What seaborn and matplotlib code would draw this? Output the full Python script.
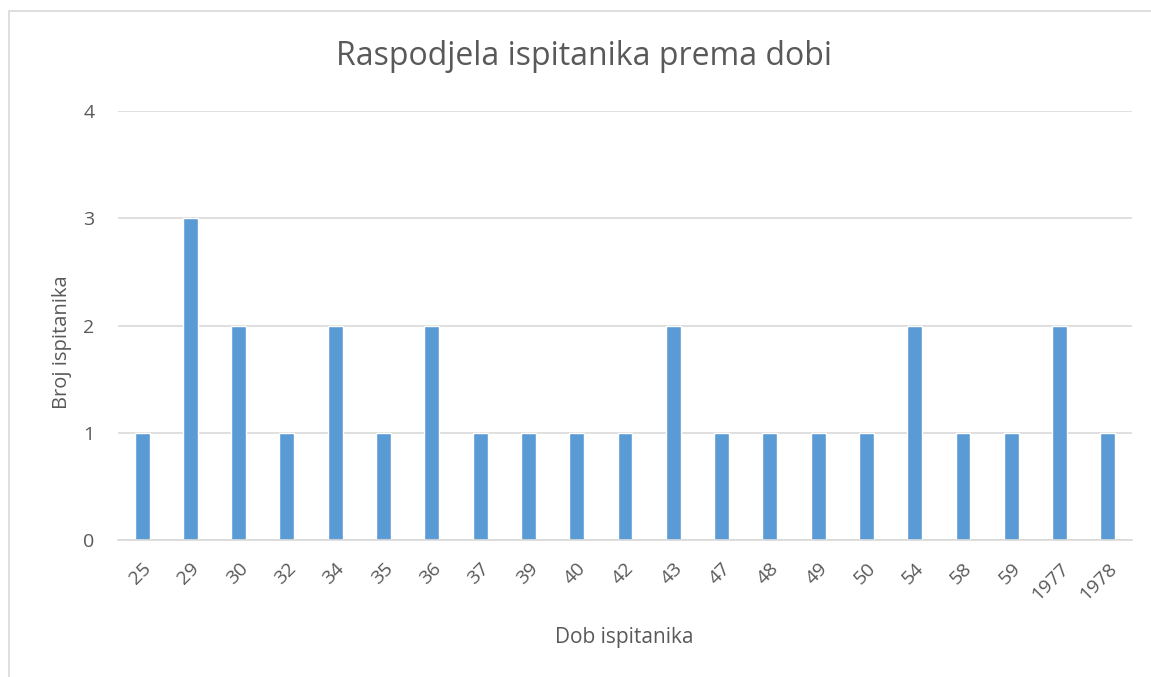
import pandas as pd
import seaborn as sns
import matplotlib.pyplot as plt
from matplotlib.patches import Rectangle

ages = ["25", "29", "30", "32", "34", "35", "36", "37", "39", "40", "42",
        "43", "47", "48", "49", "50", "54", "58", "59", "1977", "1978"]
counts = [1, 3, 2, 1, 2, 1, 2, 1, 1, 1, 1, 2, 1, 1, 1, 1, 2, 1, 1, 2, 1]

df = pd.DataFrame({"Dob": ages, "Broj": counts})

sns.set_style("white")
plt.rcParams["font.family"] = ["Open Sans", "DejaVu Sans"]

fig = plt.figure(figsize=(11.51, 6.77), dpi=100)
ax = fig.add_axes([0.1025, 0.2024, 0.881, 0.6336])

sns.barplot(data=df, x="Dob", y="Broj", order=ages, color="#5b9bd5",
            saturation=1, width=0.31, ax=ax)

ax.set_ylim(0, 4)
ax.set_xlim(-0.5, len(ages) - 0.5)
ax.set_yticks([0, 1, 2, 3, 4])
ax.yaxis.grid(True, color="#d9d9d9", linewidth=1.2)
ax.set_axisbelow(True)
for s in ["top", "right", "left"]:
    ax.spines[s].set_visible(False)
ax.spines["bottom"].set_color("#d9d9d9")
ax.spines["bottom"].set_linewidth(1.2)

ax.tick_params(axis="both", length=0, labelsize=14, colors="#595959")
ax.tick_params(axis="y", pad=17)
ax.tick_params(axis="x", pad=14)
plt.setp(ax.get_xticklabels(), rotation=45, ha="right", rotation_mode="anchor")

ax.set_xlabel("Dob ispitanika", fontsize=15, color="#595959")
ax.set_ylabel("Broj ispitanika", fontsize=14.5, color="#595959")
ax.xaxis.set_label_coords(0.499, -0.203)
ax.yaxis.set_label_coords(-0.045, 0.4615)
fig.text(0.507, 0.916, "Raspodjela ispitanika prema dobi", ha="center", va="center",
         fontsize=23, color="#595959")

# chart area border
fig.patches.append(Rectangle((9 / 1151, -0.1), 1.2, 1.1 - 11 / 677,
                             transform=fig.transFigure, fill=False,
                             edgecolor="#d9d9d9", linewidth=1.2))

plt.savefig("out.png", dpi=100)
